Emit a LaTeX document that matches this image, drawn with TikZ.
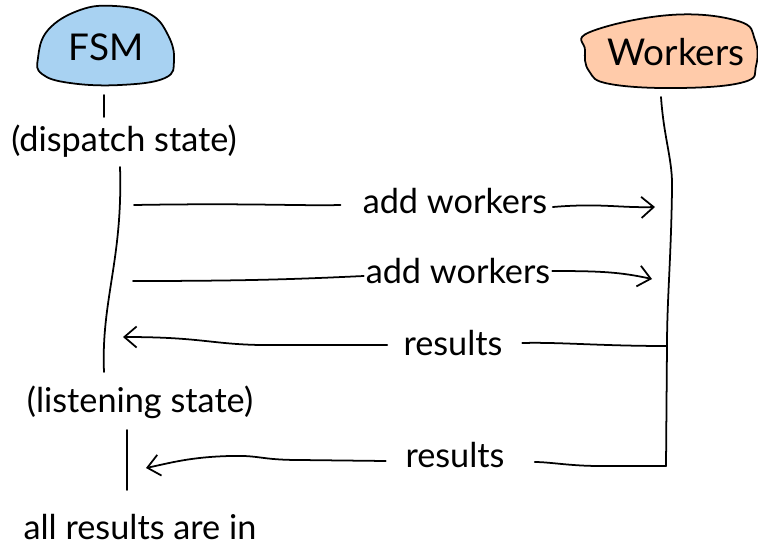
\documentclass[tikz,border=0pt]{standalone}
\usepackage{fontspec}
\setmainfont{Lato}
\usetikzlibrary{positioning,arrows.meta}
\definecolor{fsmblue}{HTML}{A8D2F2}
\definecolor{workerpeach}{HTML}{FFCBAA}

\begin{document}
\begin{tikzpicture}[
    x=0.02cm, y=-0.02cm,
    title/.style={font=\fontsize{21}{24}\selectfont},
    lbl/.style={font=\fontsize{19.5}{22}\selectfont, inner sep=1pt},
    line/.style={line width=1pt, line cap=round},
    >={Straight Barb[length=7pt,width=12pt]}
]
\useasboundingbox (0,0) rectangle (758,545);

% ----- FSM -----
\filldraw[fill=fsmblue, line] plot[smooth cycle, tension=0.7] coordinates
    {(38,58) (48,30) (80,10) (115,6) (150,14) (168,35) (174,60) (165,78) (120,85) (70,83) (42,74)};
\node[title] (fsm) at (106,47) {FSM};

% ----- Workers -----
\filldraw[fill=workerpeach, line] plot[smooth cycle, tension=0.7] coordinates
    {(585,50) (590,32) (670,15) (738,21) (755,40) (756,66) (744,82) (680,88) (610,84) (589,71)};
\node[title] (workers) at (676,52) {Workers};

% ----- States -----
\node[lbl] (dispatch) at (124,141) {(dispatch state)};
\node[lbl] (listening) at (140,402) {(listening state)};
\node[lbl] (allin) at (140,527) {all results are in};

\coordinate (f1) at (104,95);
\coordinate (f2) at (104,117);
\coordinate (l1) at (120,167);
\coordinate (l2) at (104,372);
\coordinate (e1) at (127,430);
\coordinate (e2) at (127,490);

\draw[line] (f1) -- (f2);
\draw[line] (l1) .. controls (123,260) and (101,300) .. (l2);
\draw[line] (e1) -- (e2);

% ----- Worker lifeline -----
\coordinate (w1) at (661,97);
\coordinate (w2) at (672,190);
\coordinate (w3) at (667,346);
\coordinate (w4) at (666,466);
\draw[line] (w1) .. controls (664,140) and (673,160) .. (w2)
    .. controls (671,260) and (667,300) .. (w3) -- (w4);

% ----- Messages -----
\node[lbl] (add1) at (455,201) {add workers};
\node[lbl] (add2) at (458,271) {add workers};
\node[lbl] (res1) at (453,343) {results};
\node[lbl] (res2) at (455,455) {results};

\coordinate (a1) at (134,205);
\coordinate (b1) at (655,207);
\coordinate (a2) at (133,281);
\coordinate (b2) at (652,279);
\coordinate (r1) at (123,337);
\coordinate (r2) at (146,468);

\draw[line] (a1) .. controls (250,203) and (300,206) .. ([xshift=-11.5pt]add1.west |- a1);
\draw[line, ->] ([xshift=2pt]add1.east |- b1) .. controls (600,203) and (620,208) .. (b1);
\draw[line] (a2) .. controls (250,281) and (300,279) .. (add2.west |- 0,276);
\draw[line, ->] (add2.east |- 0,271) .. controls (600,271) and (620,272) .. (b2);

\draw[line] (w3) .. controls (600,346) and (560,342) .. ([xshift=10pt]res1.east |- 0,343);
\draw[line, ->] ([xshift=-8pt]res1.west |- 0,345) -- (260,345)
    .. controls (210,344) and (200,337) .. (r1);
\draw[line] (w4) -- (600,466) .. controls (570,466) and (550,462) .. ([xshift=16pt]res2.east |- 0,462);
\draw[line, ->] ([xshift=-10pt]res2.west |- 0,461) -- (300,460)
    .. controls (260,460) and (260,455) .. (230,456)
    .. controls (190,457) and (170,463) .. (r2);

\end{tikzpicture}
\end{document}
